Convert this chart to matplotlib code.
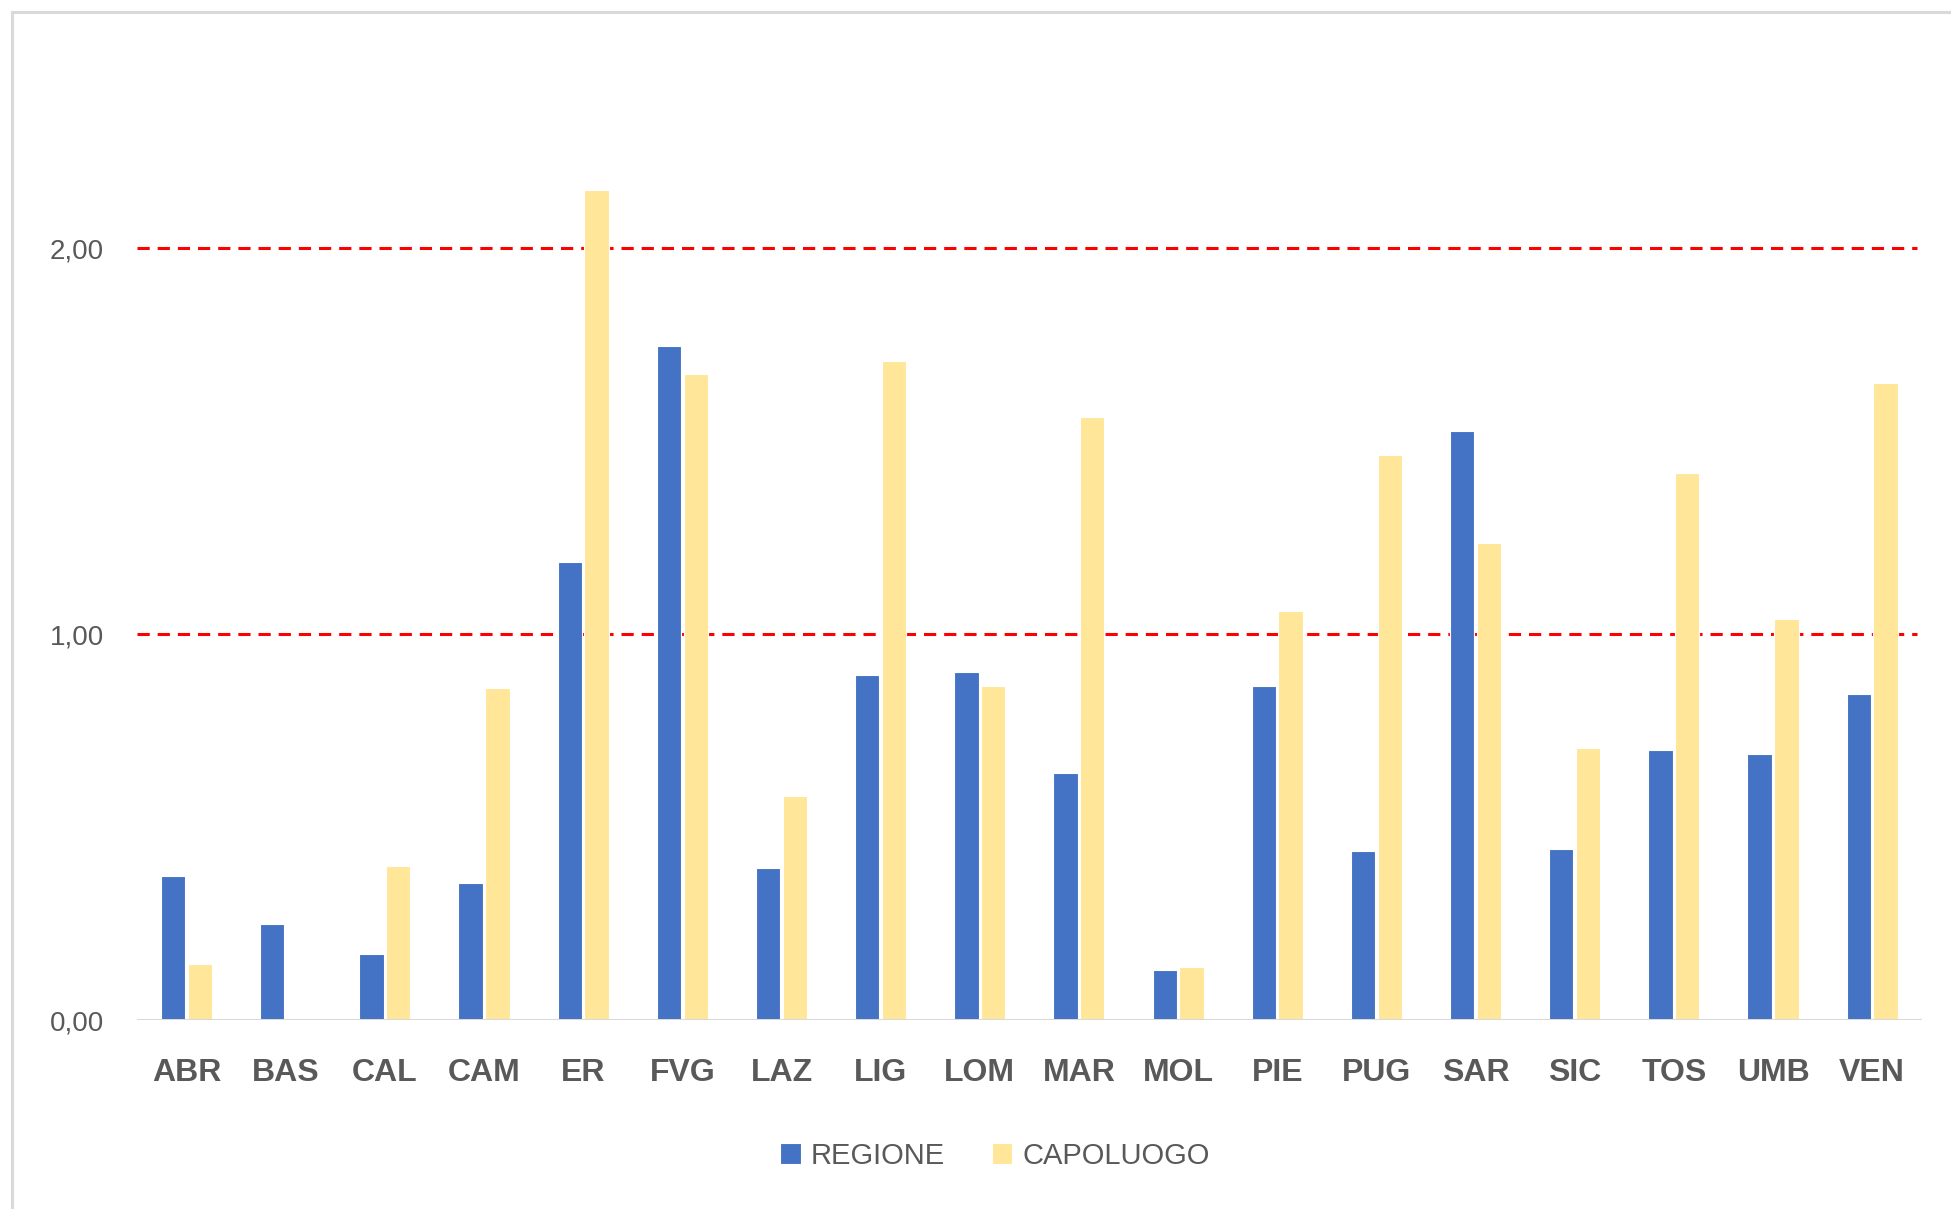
import matplotlib
matplotlib.use("Agg")
import matplotlib.pyplot as plt
from matplotlib.lines import Line2D
import numpy as np

categories = ["ABR", "BAS", "CAL", "CAM", "ER", "FVG", "LAZ", "LIG", "LOM",
              "MAR", "MOL", "PIE", "PUG", "SAR", "SIC", "TOS", "UMB", "VEN"]
regione = [0.374, 0.248, 0.171, 0.354, 1.188, 1.746, 0.393, 0.895, 0.902,
           0.641, 0.129, 0.866, 0.438, 1.527, 0.444, 0.699, 0.689, 0.844]
capoluogo = [0.145, 0.0, 0.40, 0.86, 2.151, 1.675, 0.58, 1.707, 0.866,
             1.562, 0.138, 1.06, 1.465, 1.237, 0.705, 1.417, 1.04, 1.652]
yticks = [0, 1, 2]
ytick_labels = ["0,00", "1,00", "2,00"]
ref_lines = [1, 2]

narrow = ["Liberation Sans Narrow", "Liberation Sans", "DejaVu Sans"]

fig = plt.figure(figsize=(19.51, 12.09), dpi=100)
fig.patch.set_facecolor("white")
ax = fig.add_axes([0.0702, 0.1563, 0.9148, 0.798])

x = np.arange(len(categories))
w = 0.245
ax.bar(x - 0.135, regione, w, color="#4472C4", edgecolor="white", linewidth=0.8,
       label="REGIONE", zorder=3)
ax.bar(x + 0.135, capoluogo, w, color="#FFE699", edgecolor="white", linewidth=0.8,
       label="CAPOLUOGO", zorder=3)

for r in ref_lines:
    ax.plot([-0.5, 17.45], [r, r], color="#FF0000", lw=2.2, dashes=(4, 2.6), zorder=2)
ax.axhline(0, color="#D9D9D9", lw=2.2, zorder=4)

ax.set_xlim(-0.5, len(categories) - 0.5)
ax.set_ylim(0, 2.5)
ax.set_yticks(yticks)
ax.set_yticklabels(ytick_labels, fontsize=20, color="#595959",
                   family=["Liberation Sans", "DejaVu Sans"])
ax.set_xticks(x)
ax.set_xticklabels(categories, fontsize=23, fontweight="bold", color="#595959",
                   family=narrow)
ax.tick_params(axis="y", length=0, pad=24)
ax.tick_params(axis="x", length=0, pad=27)
for s in ax.spines.values():
    s.set_visible(False)

leg = fig.legend(loc="center", bbox_to_anchor=(0.51, 0.044), ncol=2, frameon=False,
                 handlelength=0.7, handleheight=0.7, handletextpad=0.35,
                 columnspacing=1.6, prop={"family": narrow, "size": 21})
for t in leg.get_texts():
    t.set_color("#595959")

# outer chart frame (left and top edges visible)
fig.add_artist(Line2D([12 / 1951, 12 / 1951], [0, 1 - 12 / 1209],
                      transform=fig.transFigure, color="#D9D9D9", lw=2.2))
fig.add_artist(Line2D([12 / 1951, 1], [1 - 12 / 1209, 1 - 12 / 1209],
                      transform=fig.transFigure, color="#D9D9D9", lw=2.2))

fig.savefig("out.png", dpi=100, facecolor="white")
